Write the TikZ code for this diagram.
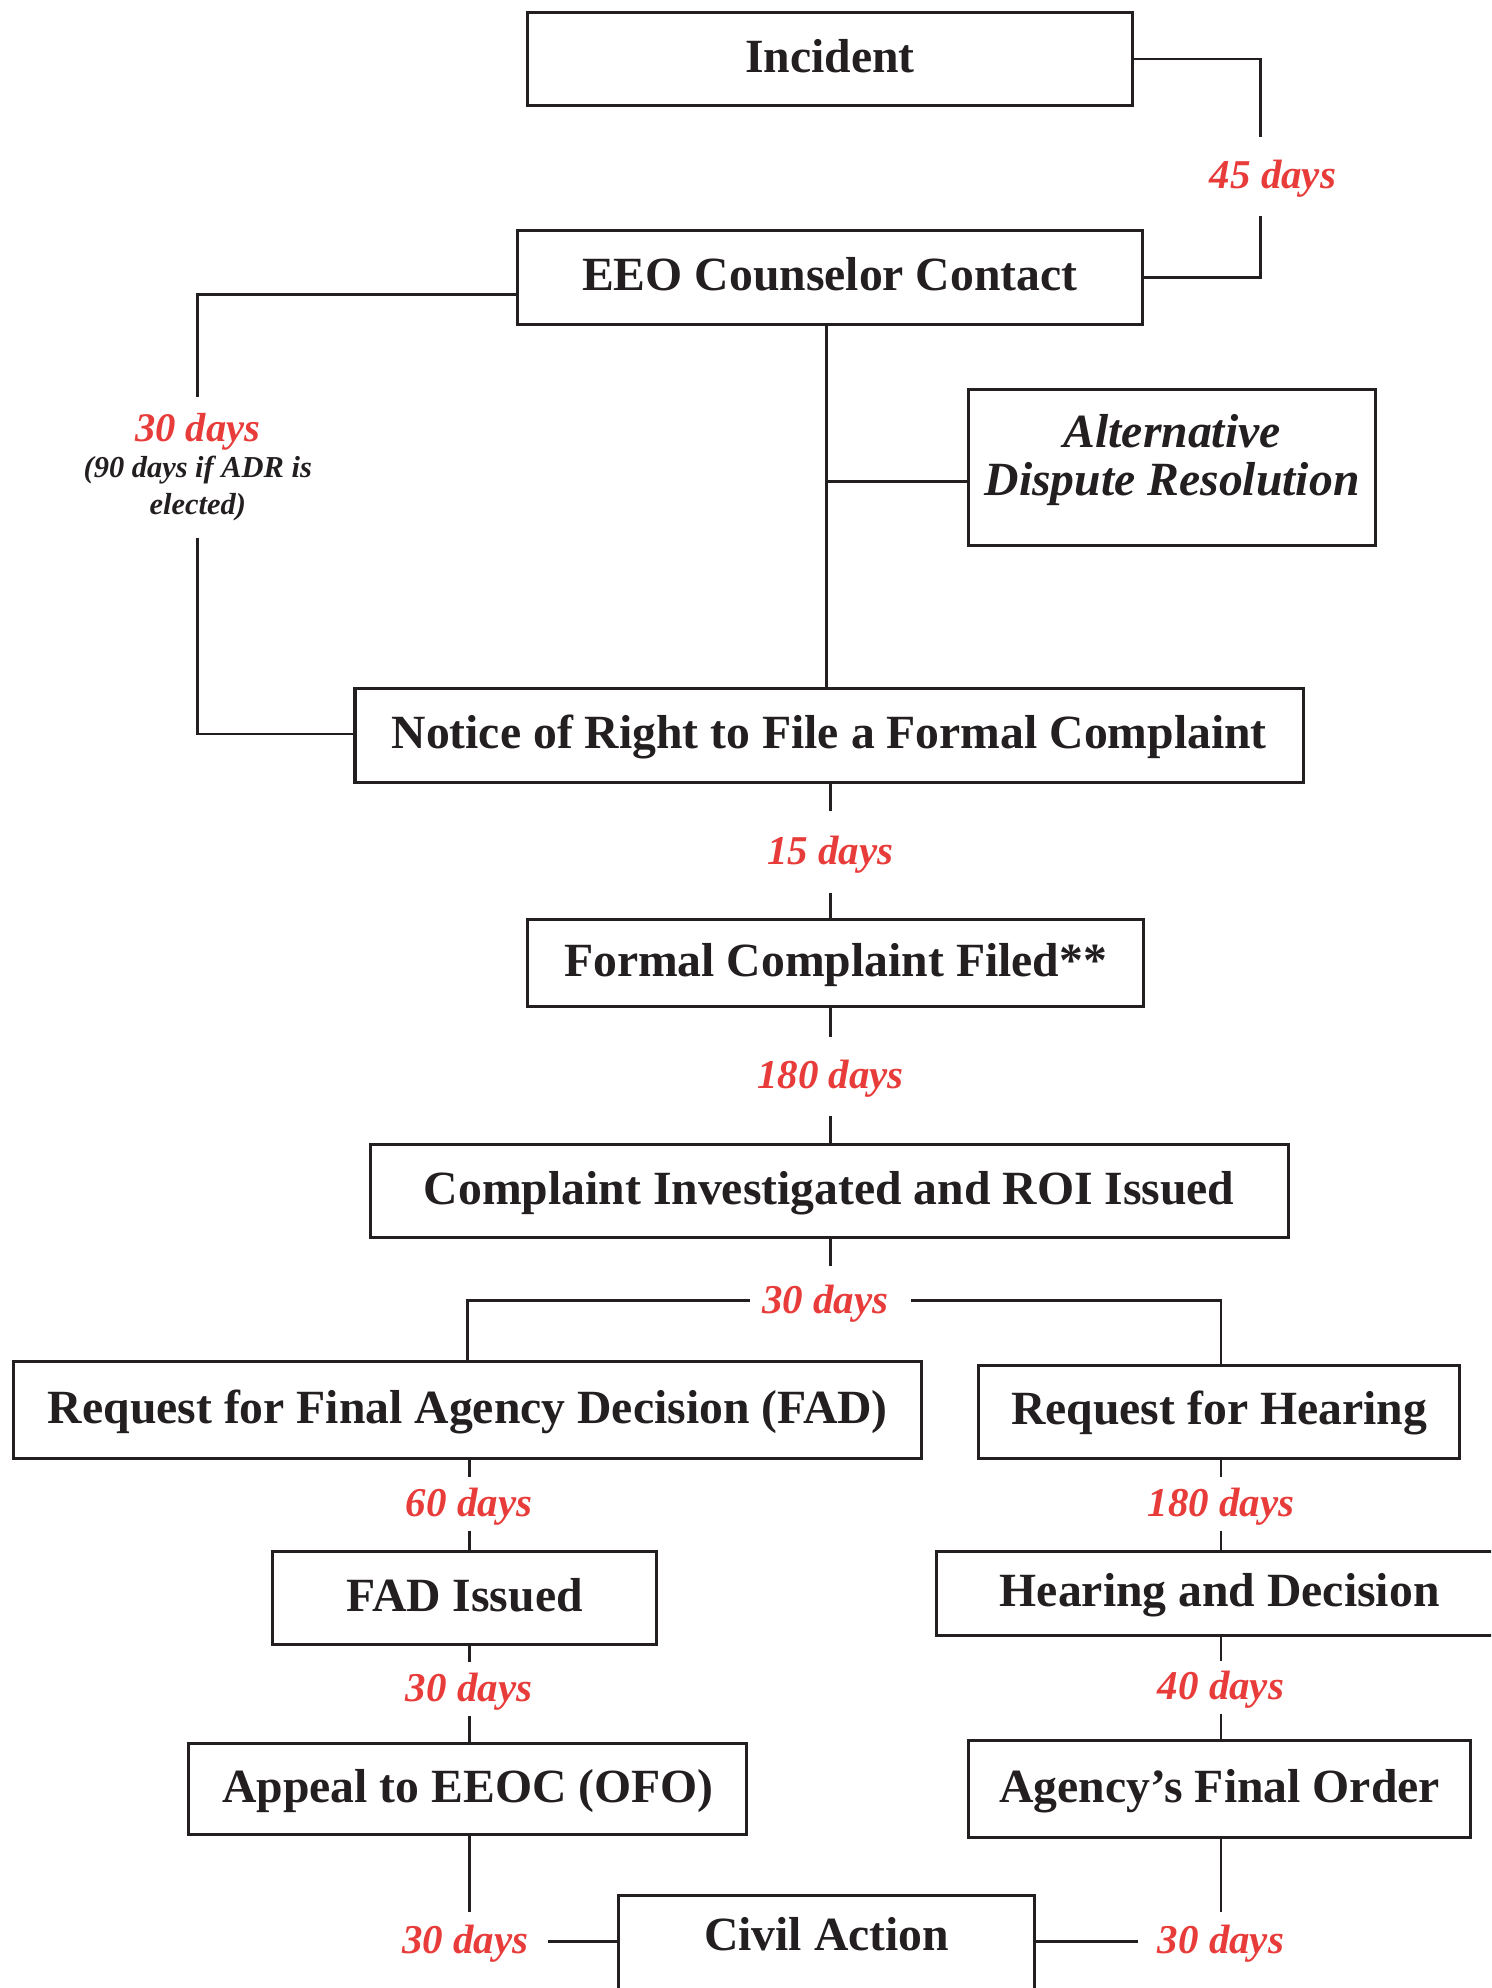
\documentclass[tikz,border=0pt]{standalone}
\usepackage{fontspec}
\setmainfont{Liberation Serif}
\usetikzlibrary{calc}
\definecolor{ink}{RGB}{35,31,32}
\definecolor{dayred}{RGB}{232,60,58}
\newcommand{\bignote}{\fontsize{32}{34}\selectfont}
\tikzset{
  boxbase/.style={draw=ink, line width=2.4pt, rectangle, inner sep=0pt, text=ink, align=center},
  box/.style={boxbase, font=\fontsize{37.6}{40}\selectfont\bfseries, text height=24.8pt, text depth=4pt},
  days/.style={inner sep=0pt, text=dayred, font=\fontsize{32.3}{34}\selectfont\bfseries\itshape,
    text height=21.6pt, text depth=2pt},
  conn/.style={draw=ink, line width=2.2pt},
}
\begin{document}
\begin{tikzpicture}[x=1pt,y=-1pt]
\useasboundingbox (0,0) rectangle (1176,1568);
\clip (0,0) rectangle (1176,1568);
% boxes
\node[box, minimum width=477, minimum height=73] (inc) at (654.5,46.5) {Incident};
\node[box, minimum width=493, minimum height=74] (eeo) at (654.5,219) {EEO Counselor Contact};
\node[boxbase, draw=none, font=\fontsize{37.6}{40}\selectfont\bfseries\itshape] (adr) at (924.5,363) {Alternative\\[-2pt]Dispute Resolution};
\draw[draw=ink, line width=2.4pt] (764,307) rectangle (1085,430);
\coordinate (adrw) at (764,380);
\node[box, minimum width=748, minimum height=74] (notice) at (654,580) {Notice of Right to File a Formal Complaint};
\node[box, minimum width=486, minimum height=69] (fcf) at (659,759.5) {Formal Complaint Filed**};
\node[box, minimum width=724, minimum height=73] (cri) at (654,939.5) {Complaint Investigated and ROI Issued};
\node[box, minimum width=716, minimum height=76] (reqfad) at (369,1112) {Request for Final Agency Decision (FAD)};
\node[box, minimum width=379, minimum height=73] (reqh) at (961.5,1113.5) {Request for Hearing};
\node[box, minimum width=303, minimum height=73] (fadi) at (366.5,1260.5) {FAD Issued};
\node[box, minimum width=446, minimum height=66] (hd) at (962,1257) {Hearing and Decision};
\node[box, minimum width=440, minimum height=72] (appeal) at (369,1411) {Appeal to EEOC (OFO)};
\node[box, minimum width=396, minimum height=76] (afo) at (962,1411) {Agency’s Final Order};
\node[box, draw=none, minimum width=326, minimum height=64] (civil) at (652,1528) {Civil Action};
\draw[draw=ink, line width=2.4pt] ($(civil.north west)+(0,80)$) -- (civil.north west) -- (civil.north east) -- ++(0,80);
% labels
\node[days, minimum height=62] (l45) at (1004,139) {45 days};
\coordinate (x994) at (994,0);
\coordinate (x652) at (652,0);
\coordinate (x963) at (963,0);
\node[inner sep=0pt, minimum height=111, align=center, text=ink,
  font=\fontsize{24}{29}\selectfont\bfseries\itshape] (l30a) at (156,368.5)
  {\textcolor{dayred}{\bignote 30 days}\\[-1pt](90 days if ADR is\\elected)};
\node[days, minimum height=64] (l15) at (655,672) {15 days};
\node[days, minimum height=62] (l180) at (655,849) {180 days};
\node[days, minimum height=54, minimum width=126] (l30b) at (655,1026) {\hspace*{-8pt}30 days};
\node[days, minimum height=42] (l60) at (370,1186) {60 days};
\node[days, minimum height=42] (l180b) at (963,1186) {180 days};
\node[days, minimum height=42] (l30c) at (370,1332) {30 days};
\node[days, minimum height=42] (l40) at (963,1331) {40 days};
\node[days, minimum height=46, minimum width=124] (l30d) at (370,1531) {\hspace*{-6pt}30 days};
\node[days, minimum height=46, minimum width=130] (l30e) at (963,1531) {30 days};
% connectors
\draw[conn] (inc.east) -| (l45.north -| x994);
\draw[conn] (l45.south -| x994) |- (eeo.east);
\draw[conn] ($(eeo.west)+(0,13)$) -| (l30a.north);
\draw[conn] (l30a.south) |- ($(notice.west)+(0,-1)$);
\draw[conn] (eeo.south -| x652) -- (notice.north -| x652);
\coordinate (br) at (652,380);
\draw[conn] (br) -- (adrw);
\draw[conn] (l15.north |- notice.south) -- (l15.north);
\draw[conn] (l15.south) -- (l15.south |- fcf.north);
\draw[conn] (l180.north |- fcf.south) -- (l180.north);
\draw[conn] (l180.south) -- (l180.south |- cri.north);
\draw[conn] (l30b.north |- cri.south) -- (l30b.north);
\draw[conn] (l30b.west) -| (reqfad.north);
\draw[conn] (l30b.east) -| (reqh.north -| x963);
\draw[conn] (l60.north |- reqfad.south) -- (l60.north);
\draw[conn] (l60.south) -- (l60.south |- fadi.north);
\draw[conn] (l180b.north |- reqh.south) -- (l180b.north);
\draw[conn] (l180b.south) -- (l180b.south |- hd.north);
\draw[conn] (l30c.north |- fadi.south) -- (l30c.north);
\draw[conn] (l30c.south) -- (l30c.south |- appeal.north);
\draw[conn] (l40.north |- hd.south) -- (l40.north);
\draw[conn] (l40.south) -- (l40.south |- afo.north);
\draw[conn] (l30d.north |- appeal.south) -- (l30d.north);
\draw[conn] (l30d.east) -- (civil.west |- l30d.east);
\draw[conn] (l30e.north |- afo.south) -- (l30e.north);
\draw[conn] (civil.east |- l30e.west) -- (l30e.west);
\end{tikzpicture}
\end{document}
